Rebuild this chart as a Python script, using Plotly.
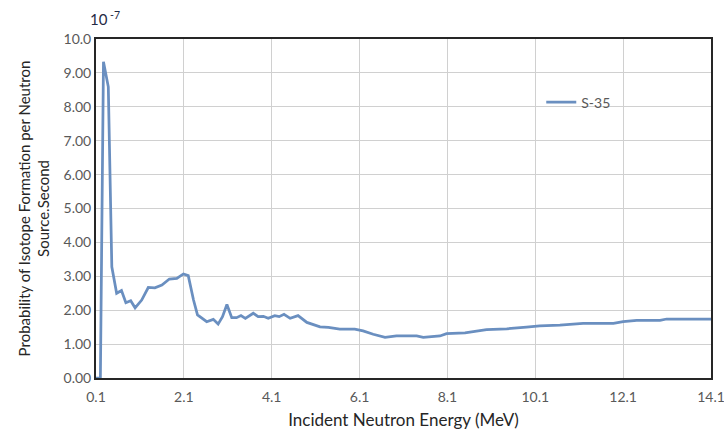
import plotly.graph_objects as go

energy = [0.1, 0.2, 0.27, 0.38, 0.46, 0.57, 0.68, 0.78, 0.89, 0.99, 1.14, 1.29, 1.44, 1.6, 1.77, 1.94, 2.09, 2.2,
          2.32, 2.41, 2.62, 2.77, 2.88, 2.98, 3.08, 3.19, 3.3, 3.4, 3.5, 3.68, 3.79, 3.91, 4.02, 4.17, 4.27,
          4.38, 4.52, 4.7, 4.9, 5.2, 5.39, 5.65, 5.99, 6.18, 6.41, 6.68, 6.94, 7.4, 7.55, 7.93, 8.08, 8.5,
          8.99, 9.45, 9.9, 10.2, 10.66, 11.19, 11.88, 12.1, 12.41, 12.94, 13.09, 14.1]
s35 = [0.0, 0.0, 9.33, 8.59, 3.28, 2.5, 2.58, 2.22, 2.28, 2.07, 2.3, 2.67, 2.66, 2.74, 2.92, 2.94, 3.07, 3.02,
       2.3, 1.86, 1.66, 1.73, 1.59, 1.81, 2.17, 1.78, 1.78, 1.84, 1.76, 1.91, 1.81, 1.82, 1.76, 1.84, 1.81,
       1.88, 1.76, 1.84, 1.64, 1.51, 1.49, 1.44, 1.44, 1.39, 1.29, 1.2, 1.24, 1.24, 1.2, 1.24, 1.31, 1.33,
       1.43, 1.45, 1.5, 1.54, 1.56, 1.61, 1.61, 1.66, 1.7, 1.7, 1.74, 1.74]

x_ticks = [0.1, 2.1, 4.1, 6.1, 8.1, 10.1, 12.1, 14.1]
x_tick_labels = ["0.1", "2.1", "4.1", "6.1", "8.1", "10.1", "12.1", "14.1"]
y_ticks = [0, 1, 2, 3, 4, 5, 6, 7, 8, 9, 10]
y_tick_labels = ["0.00", "1.00", "2.00", "3.00", "4.00", "5.00", "6.00", "7.00", "8.00", "9.00", "10.0"]

FONT = "Lato, Open Sans, sans-serif"

fig = go.Figure()
fig.add_trace(go.Scatter(x=energy, y=s35, mode="lines", name="S-35",
                         line=dict(color="#6a8fc0", width=2.75)))

fig.update_layout(
    width=724, height=435,
    margin=dict(l=96, r=13, t=39, b=57),
    paper_bgcolor="white", plot_bgcolor="white",
    font=dict(family=FONT, size=14, color="#595959"),
    showlegend=True,
    legend=dict(x=0.724, y=0.86, xanchor="left", yanchor="top", bgcolor="rgba(0,0,0,0)",
                font=dict(size=14, color="#595959")),
    xaxis=dict(range=[0.1, 14.1], tickvals=x_ticks, ticktext=x_tick_labels,
               ticklabeloverflow="allow", ticklabelstandoff=5, automargin=False,
               showgrid=True, gridcolor="#d0d0d0", gridwidth=1,
               showline=True, linecolor="#262626", linewidth=2, mirror=True,
               ticks="", zeroline=False,
               title=dict(text="Incident Neutron Energy (MeV)", font=dict(size=17, color="#262626"), standoff=10)),
    yaxis=dict(range=[0, 10], tickvals=y_ticks, ticktext=y_tick_labels, automargin=False,
               showgrid=True, gridcolor="#d0d0d0", gridwidth=1,
               showline=True, linecolor="#262626", linewidth=2, mirror=True,
               ticks="", zeroline=False,
               title=dict(text="Probability of Isotope Formation per Neutron<br>Source.Second",
                          font=dict(size=15, color="#262626"), standoff=10)),
)

fig.add_annotation(text="10<sup> -7</sup>", xref="paper", yref="paper", x=0.0, y=1.0,
                   xanchor="left", yanchor="bottom", showarrow=False, xshift=-8, yshift=9,
                   font=dict(size=15, color="#1f2a44"))

fig.write_html("out.html")
